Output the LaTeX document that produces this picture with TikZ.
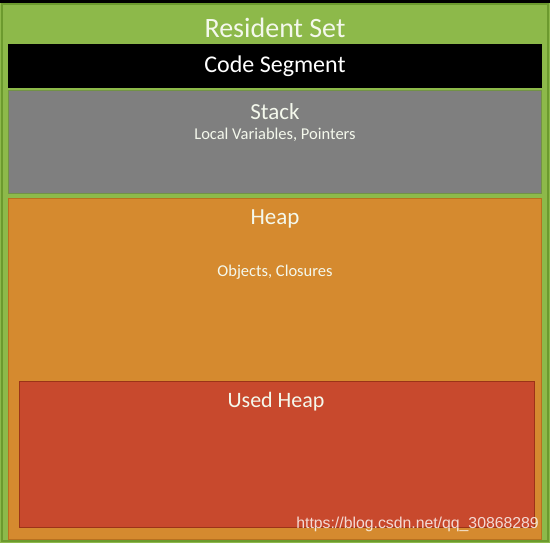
\documentclass[tikz,border=0pt]{standalone}
\usepackage{fontspec}
\setmainfont{Carlito}
\newfontfamily\wmfont{Liberation Sans}
\definecolor{rsgreen}{HTML}{8DB94A}
\definecolor{rsgreendark}{HTML}{6C9A2E}
\definecolor{stackgray}{HTML}{7F7F7F}
\definecolor{heaporange}{HTML}{D58A2F}
\definecolor{heapborder}{HTML}{B8701F}
\definecolor{usedred}{HTML}{C8492D}
\definecolor{usedborder}{HTML}{9C3318}
\definecolor{lighttext}{HTML}{F4F8EC}
\tikzset{
  region/.style={line width=1pt},
  title/.style={text=lighttext, inner sep=0pt, anchor=center},
}
\begin{document}
\begin{tikzpicture}[x=1pt,y=-1pt]
\useasboundingbox (0,0) rectangle (550,543);
\fill[black] (0,0) rectangle (550,543);
% resident set
\fill[rsgreen] (0,3) rectangle (550,543);
\draw[rsgreendark, line width=1.2pt] (2,4) rectangle (548,541);
% code segment
\fill[black] (8,44) rectangle (542,88.5);
% stack
\draw[region, fill=stackgray, draw=rsgreendark!70!stackgray] (8.5,90.5) rectangle (541.5,194);
% heap
\draw[region, fill=heaporange, draw=heapborder] (8.5,198.5) rectangle (541.5,539);
% used heap
\draw[region, fill=usedred, draw=usedborder] (19.5,381.5) rectangle (534.5,527);
% texts
\node[title, font=\fontsize{28}{32}\selectfont] (rs) at (275,28) {Resident Set};
\node[title, text=white, font=\fontsize{24}{28}\selectfont] (cs) at (275,66) {Code Segment};
\node[title, font=\fontsize{23}{27}\selectfont] (st) at (275,112) {Stack};
\node[title, font=\fontsize{16.5}{19}\selectfont] (stl) at (275,135) {Local Variables, Pointers};
\node[title, font=\fontsize{23}{27}\selectfont] (hp) at (275,219) {Heap};
\node[title, font=\fontsize{16.5}{19}\selectfont] (hpl) at (275,272) {Objects, Closures};
\node[title, font=\fontsize{22}{26}\selectfont] (uh) at (276,402) {Used Heap};
\node[text=white, text opacity=0.8, inner sep=0pt, anchor=east, font=\wmfont\fontsize{15.8}{18}\selectfont] (wm) at (539,524) {https://blog.csdn.net/qq\_30868289};
\end{tikzpicture}
\end{document}
